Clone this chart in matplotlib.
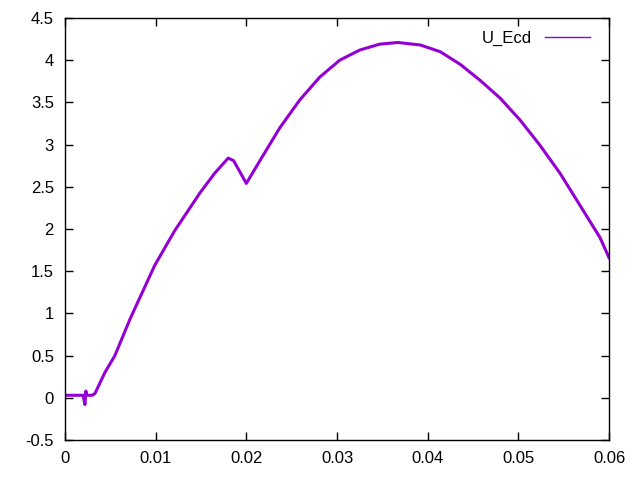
import matplotlib
matplotlib.use('Agg')
import matplotlib.pyplot as plt
from matplotlib.ticker import FuncFormatter

t = [0.0, 0.0010, 0.0020, 0.0022, 0.0023, 0.0024, 0.0030, 0.0033, 0.0044, 0.0055, 0.0072,
     0.0099, 0.0121, 0.0149, 0.0165, 0.0180, 0.0186, 0.0200, 0.0215, 0.0237,
     0.0259, 0.0281, 0.0303, 0.0325, 0.0347, 0.0367, 0.0392, 0.0414, 0.0436,
     0.0458, 0.0480, 0.0502, 0.0524, 0.0546, 0.0568, 0.0590, 0.0600]
u_ecd = [0.03, 0.03, 0.03, -0.08, 0.08, 0.03, 0.03, 0.05, 0.30, 0.50, 0.94,
         1.57, 1.98, 2.43, 2.66, 2.84, 2.81, 2.54, 2.81, 3.20,
         3.53, 3.80, 4.00, 4.12, 4.19, 4.21, 4.18, 4.10, 3.95,
         3.76, 3.55, 3.29, 2.99, 2.66, 2.28, 1.90, 1.66]

plt.rcParams['font.family'] = 'Liberation Sans'

fig = plt.figure(figsize=(6.4, 4.8), dpi=100)
ax = fig.add_axes([65 / 640, 1 - 440 / 480, 544 / 640, 422 / 480])

ax.plot(t, u_ecd, color='#9400D3', linewidth=2.2, label='U_Ecd')

ax.set_xlim(0, 0.06)
ax.set_ylim(-0.5, 4.5)
ax.set_xticks([0, 0.01, 0.02, 0.03, 0.04, 0.05, 0.06])
ax.set_yticks([-0.5, 0, 0.5, 1, 1.5, 2, 2.5, 3, 3.5, 4, 4.5])
ax.xaxis.set_major_formatter(FuncFormatter(lambda v, p: '%g' % v))
ax.yaxis.set_major_formatter(FuncFormatter(lambda v, p: '%g' % v))
ax.tick_params(direction='in', length=6, width=1, top=True, right=True,
               labelsize=12, pad=8)
for s in ax.spines.values():
    s.set_linewidth(1)

leg = ax.legend(loc='upper right', frameon=False, markerfirst=False,
                fontsize=12, handlelength=2.7, handletextpad=0.8,
                borderaxespad=0, borderpad=0, bbox_to_anchor=(0.965, 0.97))
for h in leg.get_lines():
    h.set_linewidth(1)

fig.savefig('out.png', dpi=100)
